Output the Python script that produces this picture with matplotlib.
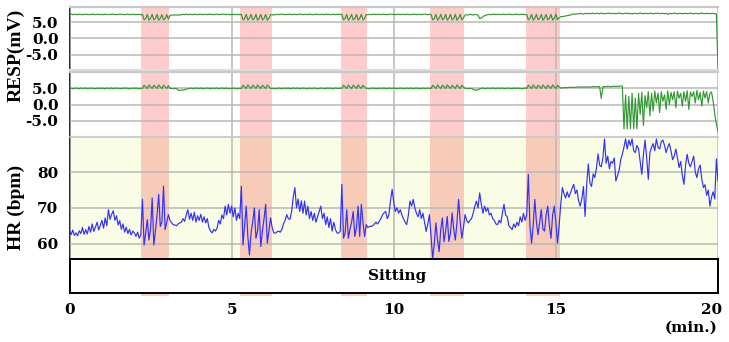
import numpy as np
import matplotlib
matplotlib.use("Agg")
import matplotlib.pyplot as plt
import matplotlib.transforms as mtransforms

# ---------------- data ----------------
minutes = np.round(np.arange(401) * 0.05, 2)

shade_start = [2.21, 5.26, 8.37, 11.12, 14.08]
shade_end = [3.07, 6.25, 9.17, 12.17, 15.12]

x_ticks = [0, 5, 10, 15, 20]
x_tick_labels = ["0", "5", "10", "15", "20"]
resp_ticks = [5.0, 0.0, -5.0]
resp_tick_labels = ["5.0", "0.0", "-5.0"]
hr_ticks = [60, 70, 80]
hr_tick_labels = ["60", "70", "80"]
phase_label = "Sitting"

resp1 = [
    7.5,7.6,7.4,7.5,7.5,7.4,7.6,7.5,7.4,7.5,7.6,7.5,7.4,7.5,7.5,7.6,7.4,7.5,7.5,7.4,
    7.5,7.4,7.6,7.5,7.4,7.5,7.5,7.6,7.4,7.5,7.4,7.6,7.5,7.5,7.4,7.5,7.6,7.4,7.5,7.5,
    7.5,7.4,7.5,7.5,7.4,7.5,5.8,6.2,7.5,5.7,6.3,7.5,5.8,6.2,7.5,5.7,6.3,7.4,5.8,6.2,
    7.4,6.0,7.2,7.3,7.3,7.3,7.3,7.3,7.3,7.4,7.5,7.4,7.6,7.4,7.5,7.5,7.4,7.6,7.5,7.4,
    7.5,7.6,7.4,7.5,7.5,7.4,7.6,7.5,7.5,7.4,7.5,7.6,7.4,7.5,7.5,7.6,7.4,7.5,7.5,7.4,
    7.5,7.4,7.5,7.4,7.5,7.4,7.5,5.8,6.2,7.5,5.7,6.3,7.5,5.8,6.2,7.5,5.7,6.3,7.5,5.8,
    6.2,7.5,5.7,6.3,7.4,7.4,7.3,7.4,7.5,7.4,7.5,7.6,7.5,7.4,7.5,7.5,7.6,7.4,7.5,7.5,
    7.4,7.5,7.6,7.5,7.4,7.5,7.5,7.4,7.6,7.5,7.4,7.5,7.5,7.6,7.4,7.5,7.5,7.4,7.6,7.5,
    7.5,7.4,7.5,7.6,7.4,7.5,7.5,7.5,7.5,5.8,6.2,7.5,5.7,6.3,7.5,5.8,6.2,7.5,5.7,6.3,
    7.5,5.8,6.2,7.4,7.4,7.5,7.4,7.5,7.6,7.4,7.5,7.5,7.4,7.6,7.5,7.5,7.4,7.5,7.6,7.5,
    7.5,7.4,7.5,7.6,7.4,7.5,7.5,7.4,7.6,7.5,7.4,7.5,7.5,7.6,7.4,7.5,7.5,7.4,7.5,7.6,
    7.5,7.4,7.5,7.5,5.8,6.2,7.5,5.7,6.3,7.5,5.8,6.2,7.5,5.7,6.3,7.5,5.8,6.2,7.5,5.7,
    6.3,7.5,5.8,6.4,7.3,7.4,7.3,7.5,7.4,7.3,7.5,7.4,7.3,6.2,6.4,6.7,7.1,7.3,7.4,7.5,
    7.4,7.5,7.6,7.4,7.5,7.5,7.4,7.6,7.5,7.4,7.5,7.6,7.5,7.4,7.5,7.5,7.6,7.4,7.5,7.5,
    7.5,7.4,7.5,5.8,6.2,7.5,5.7,6.3,7.5,5.8,6.2,7.5,5.7,6.3,7.5,5.8,6.2,7.5,5.7,6.3,
    7.5,5.9,6.4,6.8,6.8,6.9,7.0,7.1,7.2,7.3,7.5,7.6,7.5,7.7,7.6,7.8,7.7,7.6,7.8,7.7,
    7.8,7.7,7.8,7.9,7.7,7.8,7.8,7.7,7.9,7.8,7.7,7.8,7.8,7.9,7.7,7.8,7.8,7.7,7.8,7.9,
    7.8,7.7,7.8,7.8,7.9,7.7,7.8,7.6,7.8,7.8,7.7,7.8,7.9,7.8,7.7,7.8,7.8,7.7,7.9,7.8,
    7.7,7.8,7.8,7.9,7.7,7.8,7.8,7.7,7.8,7.5,7.8,7.7,7.8,7.9,7.8,7.7,7.8,7.8,7.7,7.8,
    7.8,7.7,7.8,7.9,7.8,7.7,7.8,7.8,7.7,7.8,7.9,7.8,7.7,7.8,7.8,7.7,7.8,7.8,7.7,7.6,
    -9.5,
]

resp2 = [
    5.0,5.1,4.9,5.0,5.1,5.0,4.9,5.1,5.0,5.0,5.1,4.9,5.0,5.1,5.0,5.0,4.9,5.1,5.0,5.0,
    5.1,5.0,4.9,5.1,5.0,5.0,5.1,4.9,5.0,5.1,5.0,5.0,4.9,5.1,5.0,5.1,5.0,4.9,5.0,5.1,
    5.0,5.1,5.0,4.9,5.0,5.0,6.0,5.5,5.0,6.1,5.5,5.0,6.0,5.6,5.0,6.1,5.5,5.0,6.0,5.5,
    5.0,5.9,5.0,5.0,4.9,5.0,5.0,4.5,4.4,4.5,4.5,4.6,4.8,4.9,5.0,5.1,4.9,5.0,5.1,5.0,
    5.0,5.1,4.9,5.0,5.0,5.1,5.0,4.9,5.1,5.0,5.0,5.1,4.9,5.0,5.1,5.0,5.0,5.1,4.9,5.0,
    5.0,5.1,5.0,4.9,5.0,5.0,5.0,6.0,5.5,5.0,6.1,5.5,5.0,6.0,5.6,5.0,6.1,5.5,5.0,6.0,
    5.5,5.0,6.1,5.5,5.0,5.0,5.0,4.9,5.0,5.1,5.0,4.9,5.1,5.0,5.0,5.1,4.9,5.0,5.1,5.0,
    5.0,5.1,4.9,5.0,5.1,5.0,5.0,4.9,5.1,5.0,5.0,5.1,5.0,4.9,5.0,5.1,5.0,5.0,4.9,5.1,
    5.0,5.1,4.9,5.0,5.1,5.0,5.0,5.1,5.0,6.0,5.5,5.0,6.1,5.5,5.0,6.0,5.6,5.0,6.1,5.5,
    5.0,6.0,5.5,5.0,5.0,4.9,5.0,5.1,5.0,5.0,4.9,5.1,5.0,5.0,5.1,4.9,5.0,5.1,5.0,5.0,
    5.1,5.0,4.9,5.0,5.1,5.0,5.0,4.9,5.1,5.0,5.0,5.1,4.9,5.0,5.1,5.0,5.0,4.9,5.1,5.0,
    5.0,5.1,5.0,5.0,6.0,5.5,5.0,6.1,5.5,5.0,6.0,5.6,5.0,6.1,5.5,5.0,6.0,5.5,5.0,6.1,
    5.5,5.0,6.0,5.5,5.0,5.0,4.9,5.0,5.0,4.7,4.5,4.5,4.6,4.9,5.0,5.1,5.0,4.9,5.1,5.0,
    5.0,5.1,5.0,4.9,5.1,5.0,5.0,5.1,4.9,5.0,5.1,5.0,5.0,4.9,5.1,5.0,5.0,5.1,5.0,4.9,
    5.0,5.1,5.0,6.0,5.5,5.0,6.1,5.5,5.0,6.0,5.6,5.0,6.1,5.5,5.0,6.0,5.5,5.0,6.1,5.5,
    5.0,6.0,5.5,5.1,5.2,5.2,5.3,5.2,5.3,5.4,5.3,5.4,5.3,5.4,5.5,5.4,5.5,5.4,5.5,5.4,
    5.5,5.4,5.5,5.6,5.5,5.5,5.6,5.5,1.9,5.5,5.6,5.5,5.7,5.6,5.5,5.7,5.6,5.7,5.6,5.7,
    5.8,5.7,-7.5,3.0,-7.5,2.5,-7.5,3.5,-7.5,2.0,-7.5,3.5,-3.0,3.8,-6.5,2.8,-1.0,4.0,-3.5,3.5,
    -2.0,4.2,0.5,3.6,-2.5,4.0,1.0,3.0,-1.5,4.3,0.0,3.8,1.5,4.0,-1.0,4.2,2.0,3.5,-0.5,4.0,
    1.0,4.3,-1.5,3.9,2.5,4.0,0.5,4.4,1.5,3.8,-0.5,4.2,2.0,4.0,0.5,3.5,3.9,1.0,-3.0,-6.0,
    -8.5,
]

hr = [
    63.5,62.5,63.8,62.3,63.0,62.2,63.6,62.8,64.5,62.6,63.9,62.7,64.8,63.2,65.5,63.4,64.6,66.0,63.8,65.2,
    66.5,64.3,67.2,65.0,69.5,66.8,68.2,69.2,66.5,67.8,65.2,66.4,64.0,65.5,63.2,64.6,62.8,64.0,62.4,63.5,
    63.0,62.0,63.2,61.5,62.5,72.4,59.6,63.0,66.7,61.0,64.0,72.8,59.6,63.5,68.0,73.8,64.8,66.0,76.1,63.9,
    66.0,68.1,66.5,65.8,65.3,65.2,65.0,65.5,65.8,66.0,67.0,66.2,68.0,69.5,66.8,68.5,66.5,68.8,66.0,67.8,
    66.5,68.2,66.0,67.5,65.8,67.0,64.5,63.5,63.0,64.0,63.5,64.3,66.5,65.5,68.0,67.0,70.5,68.0,71.0,68.5,
    70.5,67.5,70.0,66.5,68.5,67.0,76.1,59.6,65.0,70.5,62.0,56.8,63.0,66.0,70.0,61.5,63.5,69.5,59.2,63.5,
    67.0,71.0,60.1,63.5,67.2,64.5,63.0,62.9,63.3,63.5,63.2,64.0,65.5,66.5,68.1,67.0,66.8,69.0,73.0,75.7,
    70.0,72.5,69.0,72.0,68.5,71.9,68.0,70.5,67.0,69.0,66.5,68.5,66.0,67.5,69.0,70.5,67.0,68.5,65.3,67.5,
    64.5,67.0,63.5,66.0,64.0,63.0,62.9,63.5,76.6,61.5,63.0,69.5,61.5,64.0,66.0,69.0,62.0,64.5,70.5,62.0,
    71.0,66.0,62.0,65.3,64.5,64.8,64.8,65.0,65.5,66.0,65.5,66.2,67.0,68.0,68.6,69.0,67.0,68.0,72.0,75.2,
    71.5,69.0,70.0,68.5,69.5,68.0,67.0,66.0,65.3,68.0,71.9,70.5,72.4,70.0,68.5,67.5,69.5,67.0,68.5,66.0,
    63.4,65.5,68.1,62.0,55.8,60.0,65.8,61.0,57.7,64.0,67.2,60.5,63.5,67.6,60.6,63.0,68.6,64.0,61.0,66.0,
    72.4,66.0,61.5,64.5,68.1,66.5,65.8,66.5,67.0,68.5,70.5,71.9,70.0,74.2,71.0,68.5,70.5,69.0,70.0,68.0,
    68.5,67.0,66.5,65.5,65.3,66.5,65.8,68.5,71.0,68.0,67.5,65.0,64.5,63.9,65.5,64.5,66.0,65.0,67.5,66.0,
    68.5,66.5,68.0,79.4,65.0,60.1,65.0,72.4,66.0,62.5,66.0,69.5,64.0,63.5,68.0,70.5,65.0,61.5,68.0,70.5,
    66.0,60.1,65.0,71.0,75.7,74.0,72.8,74.5,73.0,74.2,75.5,76.6,74.0,75.0,72.0,70.5,72.5,76.0,67.6,76.5,
    82.3,77.0,76.0,79.5,78.5,81.0,85.1,82.0,81.5,84.0,89.3,82.5,84.5,81.0,83.0,82.5,84.0,77.5,79.0,80.5,
    83.5,85.1,87.0,89.3,86.5,89.0,87.5,89.3,86.0,85.5,87.5,86.5,83.0,79.4,85.0,89.0,84.0,78.0,85.5,87.0,
    88.0,86.0,89.3,87.0,86.5,88.5,89.0,87.5,85.5,87.0,88.0,86.0,83.5,84.5,86.5,84.0,81.3,83.0,79.0,76.6,
    82.0,85.0,82.5,81.5,83.0,84.5,80.0,78.5,81.0,82.0,78.0,75.7,76.5,73.5,75.0,70.5,73.0,74.5,72.5,83.7,
    77.5,
]

# ---------------- styling ----------------
W, H = 729, 342
tick_font = dict(family="DejaVu Serif", weight="bold", size=11)
label_font = dict(family="Liberation Serif", weight="bold", size=14)

SHADE_WHITE = "#ffcccc"
SHADE_YELLOW = "#f8cbb8"
GRID = "#b8b8b8"


def px_axes(left, top, right, bottom):
    return fig.add_axes([left / W, 1 - bottom / H, (right - left) / W, (bottom - top) / H])


fig = plt.figure(figsize=(W / 100, H / 100), dpi=100)
fig.patch.set_facecolor("white")

ax1 = px_axes(69.5, 7.3, 718, 69.8)
ax2 = px_axes(69.5, 72.3, 718, 137.2)
ax3 = px_axes(69.5, 137.2, 718, 259.3)
ax4 = px_axes(69.5, 259.3, 718, 293.3)

ax1.set_ylim(-9.75, 9.7)
ax2.set_ylim(-10.1, 10.0)
ax3.set_ylim(55.6, 89.8)
ax4.set_ylim(0, 1)

for ax in (ax1, ax2, ax3, ax4):
    ax.set_xlim(0, 20)
    ax.set_xticks(x_ticks)
    ax.tick_params(length=0)

for ax, shade in ((ax1, SHADE_WHITE), (ax2, SHADE_WHITE), (ax3, SHADE_YELLOW)):
    for s, e in zip(shade_start, shade_end):
        ax.axvspan(s, e, color=shade, lw=0, zorder=0.5)
    ax.grid(True, color=GRID, lw=1.1, zorder=1)
    ax.set_axisbelow(False)
    ax.set_xticklabels([])
    for sp in ("top", "bottom", "right"):
        ax.spines[sp].set_visible(False)
    ax.spines["left"].set_color("#222222")
    ax.spines["left"].set_linewidth(1.4)

ax3.set_facecolor("#fafde6")

ax1.plot(minutes, resp1, color="#339933", lw=0.85, zorder=3)
ax2.plot(minutes, resp2, color="#339933", lw=0.85, zorder=3)
ax3.plot(minutes, hr, color="#3030ff", lw=0.85, zorder=3)

# separator lines between panels
for ax in (ax1, ax2):
    ax.axhline(ax.get_ylim()[1], color="#c8c8c8", lw=1.6, zorder=4, clip_on=False)
ax1.axhline(ax1.get_ylim()[0], color="#dddddd", lw=1.6, zorder=4, clip_on=False)
ax2.axhline(ax2.get_ylim()[0], color="#dddddd", lw=1.6, zorder=4, clip_on=False)
ax3.axhline(ax3.get_ylim()[1], color="#c8c8c8", lw=1.2, zorder=4, clip_on=False)

ax1.set_yticks(resp_ticks)
ax1.set_yticklabels(resp_tick_labels, **tick_font)
ax2.set_yticks(resp_ticks)
ax2.set_yticklabels(resp_tick_labels, **tick_font)
ax3.set_yticks(hr_ticks)
ax3.set_yticklabels(hr_tick_labels, **tick_font)
for ax in (ax1, ax2, ax3):
    ax.tick_params(axis="y", pad=8)

# sitting panel
ax4.set_yticks([])
ax4.set_xticklabels(x_tick_labels, **tick_font)
ax4.tick_params(axis="x", pad=7)
last = ax4.get_xticklabels()[-1]
last.set_transform(last.get_transform() + mtransforms.ScaledTranslation(-6 / 100, 0, fig.dpi_scale_trans))
for sp in ax4.spines.values():
    sp.set_color("black")
    sp.set_linewidth(1.4)
ax4.text(10.1, 0.5, phase_label, ha="center", va="center", **tick_font)
for s, e in zip(shade_start, shade_end):
    ax4.axvspan(s, e, ymin=-0.07, ymax=0.0, color=SHADE_WHITE, lw=0, clip_on=False, zorder=0.5)

fig.text(16 / W, 1 - 55 / H, "RESP(mV)", rotation=90, ha="center", va="center", **label_font)
fig.text(16 / W, 1 - 207 / H, "HR (bpm)", rotation=90, ha="center", va="center", **label_font)
fig.text(717 / W, 1 - 328 / H, "(min.)", ha="right", va="center", **tick_font)

fig.savefig("out.png", dpi=100)
